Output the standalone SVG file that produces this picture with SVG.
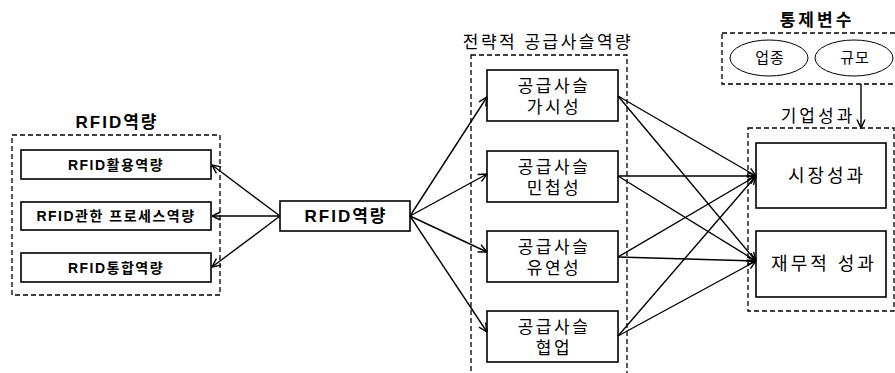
<svg xmlns="http://www.w3.org/2000/svg" width="895" height="373" viewBox="0 0 895 373">
<style>
.dash{fill:none;stroke:#000;stroke-width:1.3;stroke-dasharray:5,3}
.box{fill:#fff;stroke:#000;stroke-width:1.6}
.ell{fill:#fff;stroke:#000;stroke-width:1}
.t{font-family:"Liberation Sans","Noto Sans CJK KR",sans-serif;fill:#000;text-anchor:middle}
.b{font-weight:bold;font-size:14px;letter-spacing:1.5px}
.m{font-size:17px;letter-spacing:2.5px}
.ti{font-size:17px;letter-spacing:2.5px}
.tb{font-size:17px;font-weight:bold;letter-spacing:2px}
.big{font-size:18px;letter-spacing:3px}
.c line{stroke:#000;stroke-width:1.4;marker-end:url(#a)}
</style>
<defs>
<marker id="a" viewBox="0 0 10 10" refX="9.5" refY="5" markerWidth="10" markerHeight="10" markerUnits="userSpaceOnUse" orient="auto">
<path d="M1,1 L9.5,5 L1,9" fill="none" stroke="#000" stroke-width="1.4"/>
</marker>
</defs>
<rect width="895" height="373" fill="#fff"/>
<g id="group-rfid">
<rect class="dash" x="12" y="135" width="208" height="160"/>
<text class="t tb" x="117" y="128">RFID역량</text>
</g>
<g id="n-use"><rect class="box" x="21" y="150" width="190" height="29"/><text class="t b" x="116" y="170">RFID활용역량</text></g>
<g id="n-process"><rect class="box" x="21" y="202" width="190" height="28"/><text class="t b" x="116" y="221">RFID관한 프로세스역량</text></g>
<g id="n-integ"><rect class="box" x="21" y="253" width="190" height="29"/><text class="t b" x="116" y="273">RFID통합역량</text></g>
<g id="n-rfid"><rect class="box" x="280" y="201" width="130" height="30"/><text class="t tb" x="346" y="222">RFID역량</text></g>
<g id="group-scm">
<rect class="dash" x="471" y="55" width="156" height="330"/>
<text class="t ti" x="548" y="48">전략적 공급사슬역량</text>
</g>
<g id="n-vis"><rect class="box" x="487" y="70" width="131" height="51"/><text class="t m" x="554" y="92">공급사슬</text><text class="t m" x="554" y="113">가시성</text></g>
<g id="n-agile"><rect class="box" x="487" y="151" width="131" height="51"/><text class="t m" x="554" y="173">공급사슬</text><text class="t m" x="554" y="194">민첩성</text></g>
<g id="n-flex"><rect class="box" x="487" y="231" width="131" height="51"/><text class="t m" x="554" y="253">공급사슬</text><text class="t m" x="554" y="274">유연성</text></g>
<g id="n-collab"><rect class="box" x="487" y="311" width="131" height="51"/><text class="t m" x="554" y="333">공급사슬</text><text class="t m" x="554" y="354">협업</text></g>
<g id="group-control">
<rect class="dash" x="722" y="33" width="180" height="51"/>
<text class="t tb" style="letter-spacing:3px" x="817" y="26">통제변수</text>
</g>
<g id="n-industry"><ellipse class="ell" cx="769" cy="58" rx="39" ry="18"/><text class="t" style="font-size:15px;letter-spacing:1px" x="770" y="63">업종</text></g>
<g id="n-size"><ellipse class="ell" cx="854" cy="58" rx="39" ry="18"/><text class="t" style="font-size:15px;letter-spacing:1px" x="855" y="63">규모</text></g>
<g id="group-perf">
<rect class="dash" x="748" y="128" width="146" height="183"/>
<text class="t ti" style="letter-spacing:3px" x="818" y="122">기업성과</text>
</g>
<g id="n-market"><rect class="box" x="756" y="143" width="130" height="65"/><text class="t big" x="827" y="182">시장성과</text></g>
<g id="n-fin"><rect class="box" x="756" y="231" width="130" height="66"/><text class="t big" x="824" y="270">재무적 성과</text></g>
<g id="connectors" class="c">
<line x1="280" y1="216" x2="212" y2="165"/>
<line x1="280" y1="216" x2="212" y2="216"/>
<line x1="280" y1="216" x2="212" y2="267"/>
<line x1="410" y1="216" x2="487" y2="97"/>
<line x1="410" y1="216" x2="487" y2="174"/>
<line x1="410" y1="216" x2="487" y2="252"/>
<line x1="410" y1="216" x2="487" y2="332"/>
<line x1="618" y1="96" x2="756" y2="176"/>
<line x1="618" y1="96" x2="756" y2="261"/>
<line x1="618" y1="176" x2="756" y2="176"/>
<line x1="618" y1="176" x2="756" y2="261"/>
<line x1="618" y1="257" x2="756" y2="176"/>
<line x1="618" y1="257" x2="756" y2="261"/>
<line x1="618" y1="336" x2="756" y2="176"/>
<line x1="618" y1="336" x2="756" y2="261"/>
<line x1="861" y1="84" x2="861" y2="128"/>
</g>
</svg>
